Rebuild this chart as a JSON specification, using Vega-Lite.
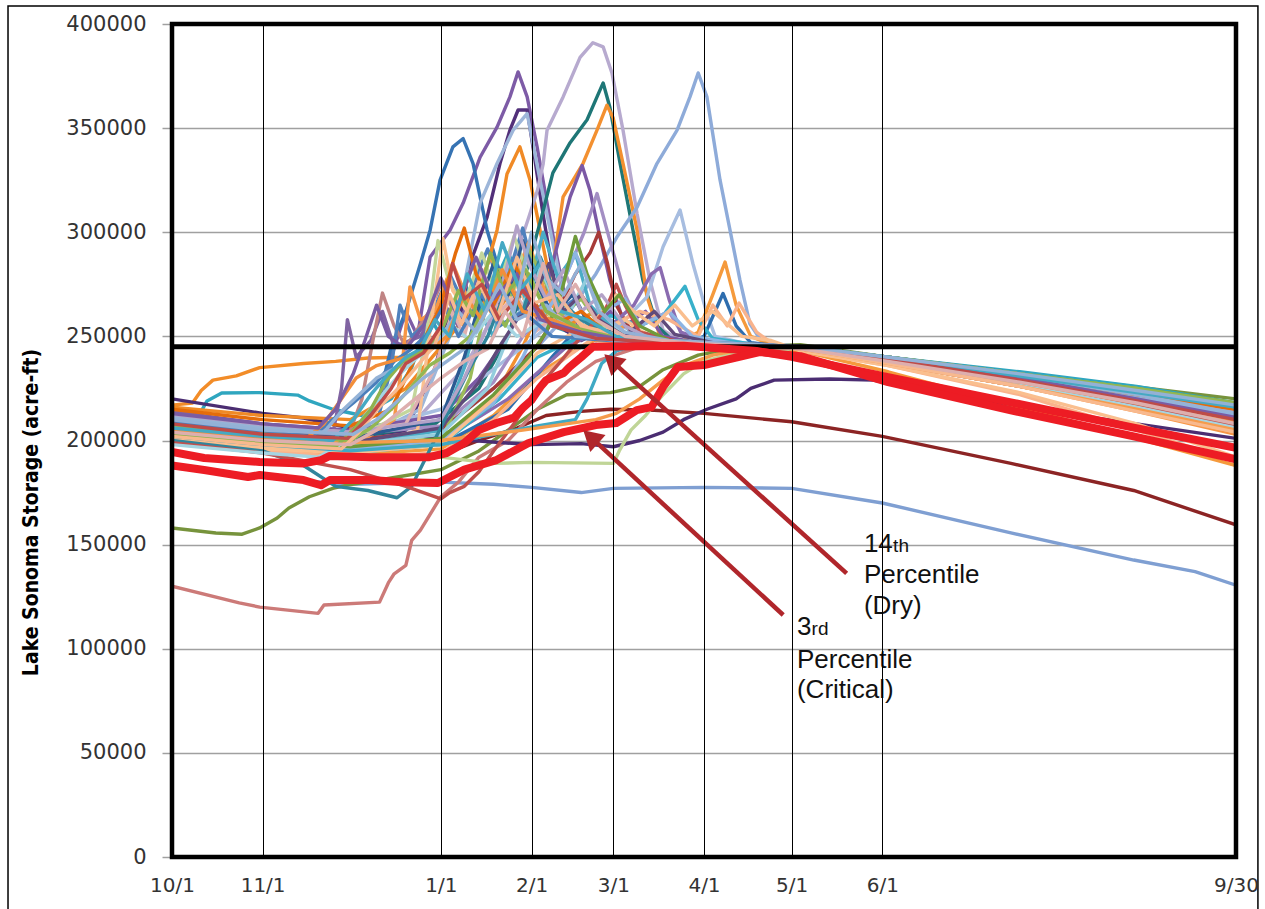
{
"$schema":"https://vega.github.io/schema/vega-lite/v6.json",
"width":1064,"height":833,
"autosize":{"type":"none"},
"padding":{"left":172,"top":24,"right":29,"bottom":52},
"background":"white",
"config":{"view":{"stroke":null}},
"datasets":{
"tr":[
{"s":"lb","d":0,"v":187000},{"s":"lb","d":20,"v":184000},{"s":"lb","d":40,"v":181000},{"s":"lb","d":61,"v":179000},{"s":"lb","d":92,"v":180000},{"s":"lb","d":110,"v":179000},{"s":"lb","d":123,"v":177500},{"s":"lb","d":140,"v":175000},{"s":"lb","d":151,"v":177000},{"s":"lb","d":182,"v":177500},{"s":"lb","d":212,"v":177000},{"s":"lb","d":243,"v":170000},{"s":"lb","d":287,"v":155600},{"s":"lb","d":329,"v":142600},{"s":"lb","d":350,"v":137000},{"s":"lb","d":364,"v":130500},
{"s":"dr","d":0,"v":205000},{"s":"dr","d":31,"v":200000},{"s":"dr","d":61,"v":196000},{"s":"dr","d":80,"v":192000},{"s":"dr","d":92,"v":193000},{"s":"dr","d":105,"v":200000},{"s":"dr","d":118,"v":206000},{"s":"dr","d":128,"v":212000},{"s":"dr","d":140,"v":214000},{"s":"dr","d":150,"v":215000},{"s":"dr","d":165,"v":214500},{"s":"dr","d":182,"v":213000},{"s":"dr","d":212,"v":209000},{"s":"dr","d":243,"v":202000},{"s":"dr","d":287,"v":189000},{"s":"dr","d":329,"v":176000},{"s":"dr","d":364,"v":159500},
{"s":"gr","d":0,"v":158000},{"s":"gr","d":15,"v":155600},{"s":"gr","d":24,"v":155000},{"s":"gr","d":30,"v":158000},{"s":"gr","d":36,"v":162800},{"s":"gr","d":40,"v":167600},{"s":"gr","d":47,"v":173000},{"s":"gr","d":55,"v":177000},{"s":"gr","d":60,"v":178600},{"s":"gr","d":75,"v":182000},{"s":"gr","d":92,"v":186000},{"s":"gr","d":105,"v":195000},{"s":"gr","d":115,"v":205000},{"s":"gr","d":125,"v":215000},{"s":"gr","d":135,"v":222000},{"s":"gr","d":150,"v":223000},{"s":"gr","d":160,"v":226000},{"s":"gr","d":168,"v":234000},{"s":"gr","d":180,"v":241000},{"s":"gr","d":195,"v":245000},{"s":"gr","d":215,"v":246000},{"s":"gr","d":245,"v":240000},{"s":"gr","d":290,"v":232400},{"s":"gr","d":330,"v":225700},{"s":"gr","d":364,"v":220000},
{"s":"ro","d":0,"v":130000},{"s":"ro","d":23,"v":122000},{"s":"ro","d":30,"v":120000},{"s":"ro","d":50,"v":117000},{"s":"ro","d":52,"v":121000},{"s":"ro","d":71,"v":122400},{"s":"ro","d":74,"v":131600},{"s":"ro","d":76,"v":136000},{"s":"ro","d":80,"v":140000},{"s":"ro","d":82,"v":152000},{"s":"ro","d":85,"v":157000},{"s":"ro","d":92,"v":173000},{"s":"ro","d":98,"v":180000},{"s":"ro","d":105,"v":192000},{"s":"ro","d":115,"v":200000},{"s":"ro","d":125,"v":215000},{"s":"ro","d":135,"v":228000},{"s":"ro","d":145,"v":238000},{"s":"ro","d":160,"v":245000},{"s":"ro","d":190,"v":247000},{"s":"ro","d":215,"v":244000},{"s":"ro","d":245,"v":237000},{"s":"ro","d":290,"v":226000},{"s":"ro","d":330,"v":216000},{"s":"ro","d":364,"v":207000},
{"s":"o1","d":0,"v":217000},{"s":"o1","d":7,"v":218000},{"s":"o1","d":10,"v":224000},{"s":"o1","d":14,"v":229000},{"s":"o1","d":22,"v":231000},{"s":"o1","d":30,"v":235000},{"s":"o1","d":45,"v":237000},{"s":"o1","d":56,"v":238000},{"s":"o1","d":67,"v":239600},{"s":"o1","d":78,"v":240000},{"s":"o1","d":85,"v":242000},{"s":"o1","d":90,"v":250000},{"s":"o1","d":95,"v":262000},{"s":"o1","d":100,"v":255000},{"s":"o1","d":105,"v":270000},{"s":"o1","d":110,"v":260000},{"s":"o1","d":118,"v":275000},{"s":"o1","d":125,"v":262000},{"s":"o1","d":135,"v":258000},{"s":"o1","d":145,"v":250000},{"s":"o1","d":160,"v":247000},{"s":"o1","d":190,"v":246000},{"s":"o1","d":215,"v":243000},{"s":"o1","d":245,"v":237000},{"s":"o1","d":290,"v":228000},{"s":"o1","d":330,"v":219000},{"s":"o1","d":364,"v":210000},
{"s":"aq","d":0,"v":212000},{"s":"aq","d":10,"v":214000},{"s":"aq","d":12,"v":219000},{"s":"aq","d":17,"v":222800},{"s":"aq","d":30,"v":223000},{"s":"aq","d":43,"v":221800},{"s":"aq","d":47,"v":219000},{"s":"aq","d":55,"v":215000},{"s":"aq","d":65,"v":212000},{"s":"aq","d":75,"v":220000},{"s":"aq","d":82,"v":235000},{"s":"aq","d":88,"v":260000},{"s":"aq","d":92,"v":250000},{"s":"aq","d":100,"v":275000},{"s":"aq","d":106,"v":262000},{"s":"aq","d":115,"v":290000},{"s":"aq","d":122,"v":270000},{"s":"aq","d":130,"v":255000},{"s":"aq","d":140,"v":250000},{"s":"aq","d":150,"v":262000},{"s":"aq","d":160,"v":248000},{"s":"aq","d":190,"v":246000},{"s":"aq","d":215,"v":245000},{"s":"aq","d":245,"v":240000},{"s":"aq","d":290,"v":233000},{"s":"aq","d":330,"v":226000},{"s":"aq","d":364,"v":218000},
{"s":"dp","d":0,"v":220000},{"s":"dp","d":31,"v":213000},{"s":"dp","d":45,"v":210800},{"s":"dp","d":61,"v":206000},{"s":"dp","d":92,"v":201000},{"s":"dp","d":123,"v":198000},{"s":"dp","d":140,"v":198500},{"s":"dp","d":151,"v":197000},{"s":"dp","d":160,"v":200000},{"s":"dp","d":168,"v":204000},{"s":"dp","d":175,"v":210000},{"s":"dp","d":183,"v":215000},{"s":"dp","d":193,"v":220000},{"s":"dp","d":198,"v":225000},{"s":"dp","d":206,"v":229000},{"s":"dp","d":225,"v":229500},{"s":"dp","d":240,"v":229000},{"s":"dp","d":260,"v":223000},{"s":"dp","d":290,"v":216000},{"s":"dp","d":330,"v":208000},{"s":"dp","d":364,"v":201000},
{"s":"lg","d":0,"v":203000},{"s":"lg","d":31,"v":198000},{"s":"lg","d":61,"v":195000},{"s":"lg","d":92,"v":192000},{"s":"lg","d":110,"v":189000},{"s":"lg","d":123,"v":189500},{"s":"lg","d":151,"v":189000},{"s":"lg","d":153,"v":195000},{"s":"lg","d":157,"v":205000},{"s":"lg","d":162,"v":212000},{"s":"lg","d":168,"v":222000},{"s":"lg","d":175,"v":232000},{"s":"lg","d":182,"v":238000},{"s":"lg","d":195,"v":243000},{"s":"lg","d":215,"v":244000},{"s":"lg","d":245,"v":238000},{"s":"lg","d":290,"v":228000},{"s":"lg","d":330,"v":218000},{"s":"lg","d":364,"v":209000},
{"s":"pa","d":0,"v":214000},{"s":"pa","d":31,"v":208000},{"s":"pa","d":61,"v":204000},{"s":"pa","d":70,"v":215000},{"s":"pa","d":75,"v":240000},{"s":"pa","d":80,"v":262000},{"s":"pa","d":84,"v":250000},{"s":"pa","d":88.3,"v":288100},{"s":"pa","d":95.1,"v":301000},{"s":"pa","d":99.6,"v":314000},{"s":"pa","d":105.4,"v":336000},{"s":"pa","d":111.2,"v":350500},{"s":"pa","d":115.6,"v":365000},{"s":"pa","d":118.4,"v":377000},{"s":"pa","d":121.5,"v":365000},{"s":"pa","d":124.9,"v":341000},{"s":"pa","d":128.3,"v":314000},{"s":"pa","d":131.7,"v":288000},{"s":"pa","d":135,"v":265000},{"s":"pa","d":140,"v":250000},{"s":"pa","d":150,"v":262000},{"s":"pa","d":160,"v":250000},{"s":"pa","d":175,"v":247000},{"s":"pa","d":200,"v":246000},{"s":"pa","d":215,"v":245000},{"s":"pa","d":245,"v":239000},{"s":"pa","d":290,"v":230000},{"s":"pa","d":330,"v":221000},{"s":"pa","d":364,"v":212000},
{"s":"pb","d":0,"v":208000},{"s":"pb","d":31,"v":203000},{"s":"pb","d":61,"v":200000},{"s":"pb","d":80,"v":205000},{"s":"pb","d":90,"v":235000},{"s":"pb","d":95,"v":262000},{"s":"pb","d":98,"v":255000},{"s":"pb","d":102,"v":285200},{"s":"pb","d":107.8,"v":307300},{"s":"pb","d":112.2,"v":333000},{"s":"pb","d":115.6,"v":349000},{"s":"pb","d":118.4,"v":358700},{"s":"pb","d":121.5,"v":358700},{"s":"pb","d":123.5,"v":341000},{"s":"pb","d":126.9,"v":309000},{"s":"pb","d":131.7,"v":269000},{"s":"pb","d":134.4,"v":253000},{"s":"pb","d":140,"v":248000},{"s":"pb","d":150,"v":255000},{"s":"pb","d":160,"v":247000},{"s":"pb","d":180,"v":246000},{"s":"pb","d":215,"v":244000},{"s":"pb","d":245,"v":238000},{"s":"pb","d":290,"v":228000},{"s":"pb","d":330,"v":218000},{"s":"pb","d":364,"v":208000},
{"s":"pc","d":0,"v":210000},{"s":"pc","d":31,"v":205000},{"s":"pc","d":61,"v":202000},{"s":"pc","d":70,"v":215000},{"s":"pc","d":75,"v":245000},{"s":"pc","d":80,"v":262000},{"s":"pc","d":85,"v":285000},{"s":"pc","d":88.3,"v":301000},{"s":"pc","d":91.7,"v":325000},{"s":"pc","d":96.1,"v":341000},{"s":"pc","d":99.6,"v":345000},{"s":"pc","d":103,"v":333000},{"s":"pc","d":105.4,"v":317000},{"s":"pc","d":107.8,"v":301000},{"s":"pc","d":111.2,"v":285000},{"s":"pc","d":115,"v":270000},{"s":"pc","d":120,"v":260000},{"s":"pc","d":125,"v":285000},{"s":"pc","d":130,"v":270000},{"s":"pc","d":135,"v":255000},{"s":"pc","d":145,"v":250000},{"s":"pc","d":160,"v":248000},{"s":"pc","d":190,"v":246000},{"s":"pc","d":215,"v":245000},{"s":"pc","d":245,"v":239000},{"s":"pc","d":290,"v":230000},{"s":"pc","d":330,"v":221000},{"s":"pc","d":364,"v":213000},
{"s":"pd","d":0,"v":206000},{"s":"pd","d":31,"v":201000},{"s":"pd","d":61,"v":198000},{"s":"pd","d":85,"v":215000},{"s":"pd","d":95,"v":250000},{"s":"pd","d":100,"v":275000},{"s":"pd","d":105.4,"v":314000},{"s":"pd","d":111.2,"v":333000},{"s":"pd","d":116.7,"v":349000},{"s":"pd","d":121.5,"v":357000},{"s":"pd","d":125.9,"v":325000},{"s":"pd","d":131.7,"v":285000},{"s":"pd","d":135,"v":262000},{"s":"pd","d":140,"v":250000},{"s":"pd","d":150,"v":258000},{"s":"pd","d":165,"v":247000},{"s":"pd","d":190,"v":246000},{"s":"pd","d":215,"v":245000},{"s":"pd","d":245,"v":239000},{"s":"pd","d":290,"v":229000},{"s":"pd","d":330,"v":219000},{"s":"pd","d":364,"v":210000},
{"s":"pe","d":0,"v":216000},{"s":"pe","d":31,"v":212000},{"s":"pe","d":61,"v":210000},{"s":"pe","d":80,"v":225000},{"s":"pe","d":95,"v":250000},{"s":"pe","d":102,"v":262000},{"s":"pe","d":107,"v":280000},{"s":"pe","d":111.2,"v":301000},{"s":"pe","d":114.6,"v":328000},{"s":"pe","d":119,"v":341000},{"s":"pe","d":122.5,"v":325000},{"s":"pe","d":125.9,"v":301000},{"s":"pe","d":129.3,"v":277000},{"s":"pe","d":135,"v":255000},{"s":"pe","d":145,"v":262000},{"s":"pe","d":155,"v":250000},{"s":"pe","d":175,"v":247000},{"s":"pe","d":200,"v":246000},{"s":"pe","d":215,"v":244000},{"s":"pe","d":245,"v":238000},{"s":"pe","d":290,"v":229000},{"s":"pe","d":330,"v":219000},{"s":"pe","d":364,"v":209000},
{"s":"pf","d":0,"v":212000},{"s":"pf","d":31,"v":207000},{"s":"pf","d":61,"v":204000},{"s":"pf","d":85,"v":212000},{"s":"pf","d":100,"v":235000},{"s":"pf","d":110,"v":260000},{"s":"pf","d":118,"v":290000},{"s":"pf","d":122,"v":307000},{"s":"pf","d":125,"v":320000},{"s":"pf","d":127,"v":333000},{"s":"pf","d":128.3,"v":349000},{"s":"pf","d":133.8,"v":365000},{"s":"pf","d":139.6,"v":384000},{"s":"pf","d":144,"v":391000},{"s":"pf","d":147.5,"v":389000},{"s":"pf","d":150.5,"v":376500},{"s":"pf","d":154.3,"v":349000},{"s":"pf","d":159.1,"v":309000},{"s":"pf","d":163.5,"v":277000},{"s":"pf","d":168,"v":253000},{"s":"pf","d":175,"v":247000},{"s":"pf","d":195,"v":246000},{"s":"pf","d":215,"v":245000},{"s":"pf","d":245,"v":240000},{"s":"pf","d":290,"v":231000},{"s":"pf","d":330,"v":222000},{"s":"pf","d":364,"v":214000},
{"s":"pg","d":0,"v":209000},{"s":"pg","d":31,"v":204000},{"s":"pg","d":61,"v":201000},{"s":"pg","d":90,"v":208000},{"s":"pg","d":105,"v":225000},{"s":"pg","d":115,"v":250000},{"s":"pg","d":120,"v":275000},{"s":"pg","d":125.9,"v":304500},{"s":"pg","d":130.3,"v":328500},{"s":"pg","d":136.2,"v":343000},{"s":"pg","d":142,"v":354000},{"s":"pg","d":145.4,"v":365000},{"s":"pg","d":147.5,"v":371700},{"s":"pg","d":149.8,"v":360000},{"s":"pg","d":153.3,"v":333000},{"s":"pg","d":157.7,"v":301000},{"s":"pg","d":161.1,"v":277000},{"s":"pg","d":166,"v":255000},{"s":"pg","d":172,"v":247000},{"s":"pg","d":195,"v":246000},{"s":"pg","d":215,"v":245000},{"s":"pg","d":245,"v":240000},{"s":"pg","d":290,"v":231000},{"s":"pg","d":330,"v":222000},{"s":"pg","d":364,"v":215000},
{"s":"ph","d":0,"v":204000},{"s":"ph","d":31,"v":199000},{"s":"ph","d":61,"v":196000},{"s":"ph","d":92,"v":200000},{"s":"ph","d":110,"v":220000},{"s":"ph","d":120,"v":245000},{"s":"ph","d":128,"v":270000},{"s":"ph","d":131,"v":290000},{"s":"ph","d":133.8,"v":317000},{"s":"ph","d":140.6,"v":333000},{"s":"ph","d":145.4,"v":349000},{"s":"ph","d":148.8,"v":361000},{"s":"ph","d":150.9,"v":355000},{"s":"ph","d":154.3,"v":333000},{"s":"ph","d":159.1,"v":301000},{"s":"ph","d":162.5,"v":269000},{"s":"ph","d":167,"v":250000},{"s":"ph","d":175,"v":247000},{"s":"ph","d":195,"v":246000},{"s":"ph","d":215,"v":244000},{"s":"ph","d":245,"v":238000},{"s":"ph","d":290,"v":227000},{"s":"ph","d":330,"v":216000},{"s":"ph","d":364,"v":206000},
{"s":"pi","d":0,"v":207000},{"s":"pi","d":31,"v":203000},{"s":"pi","d":61,"v":200000},{"s":"pi","d":92,"v":205000},{"s":"pi","d":110,"v":225000},{"s":"pi","d":125,"v":245000},{"s":"pi","d":135,"v":260000},{"s":"pi","d":145,"v":280000},{"s":"pi","d":152.2,"v":297700},{"s":"pi","d":159.1,"v":312000},{"s":"pi","d":165.9,"v":333000},{"s":"pi","d":172.8,"v":349000},{"s":"pi","d":177.2,"v":365000},{"s":"pi","d":180,"v":376500},{"s":"pi","d":183,"v":365000},{"s":"pi","d":187.5,"v":325000},{"s":"pi","d":190.9,"v":301000},{"s":"pi","d":194.3,"v":277000},{"s":"pi","d":197.7,"v":256000},{"s":"pi","d":202,"v":247000},{"s":"pi","d":215,"v":245000},{"s":"pi","d":245,"v":240000},{"s":"pi","d":290,"v":231000},{"s":"pi","d":330,"v":222000},{"s":"pi","d":364,"v":213000},
{"s":"pj","d":0,"v":210000},{"s":"pj","d":31,"v":206000},{"s":"pj","d":61,"v":203000},{"s":"pj","d":92,"v":215000},{"s":"pj","d":120,"v":245000},{"s":"pj","d":135,"v":262000},{"s":"pj","d":145,"v":250000},{"s":"pj","d":155,"v":258000},{"s":"pj","d":162.5,"v":269000},{"s":"pj","d":168,"v":293000},{"s":"pj","d":173.8,"v":310700},{"s":"pj","d":178.2,"v":285000},{"s":"pj","d":183,"v":261000},{"s":"pj","d":185.8,"v":250000},{"s":"pj","d":195,"v":247000},{"s":"pj","d":215,"v":245000},{"s":"pj","d":245,"v":240000},{"s":"pj","d":290,"v":231000},{"s":"pj","d":330,"v":223000},{"s":"pj","d":364,"v":215000},
{"s":"pk","d":0,"v":200000},{"s":"pk","d":31,"v":196000},{"s":"pk","d":61,"v":193000},{"s":"pk","d":92,"v":196000},{"s":"pk","d":110,"v":212000},{"s":"pk","d":125,"v":232000},{"s":"pk","d":140,"v":245000},{"s":"pk","d":155,"v":255000},{"s":"pk","d":165,"v":250000},{"s":"pk","d":175,"v":248000},{"s":"pk","d":180,"v":252000},{"s":"pk","d":185,"v":270000},{"s":"pk","d":189.2,"v":285700},{"s":"pk","d":193,"v":265000},{"s":"pk","d":198,"v":250000},{"s":"pk","d":205,"v":246000},{"s":"pk","d":215,"v":243000},{"s":"pk","d":245,"v":233000},{"s":"pk","d":290,"v":216000},{"s":"pk","d":330,"v":201000},{"s":"pk","d":364,"v":188000},
{"s":"pl","d":0,"v":203000},{"s":"pl","d":31,"v":199000},{"s":"pl","d":61,"v":196000},{"s":"pl","d":92,"v":198000},{"s":"pl","d":115,"v":215000},{"s":"pl","d":130,"v":240000},{"s":"pl","d":140,"v":256000},{"s":"pl","d":145,"v":248000},{"s":"pl","d":160,"v":252000},{"s":"pl","d":175,"v":246000},{"s":"pl","d":182,"v":250000},{"s":"pl","d":188.5,"v":270600},{"s":"pl","d":193,"v":255000},{"s":"pl","d":198,"v":247000},{"s":"pl","d":215,"v":244000},{"s":"pl","d":245,"v":237000},{"s":"pl","d":290,"v":226000},{"s":"pl","d":330,"v":215000},{"s":"pl","d":364,"v":205000},
{"s":"pm","d":0,"v":213000},{"s":"pm","d":31,"v":208000},{"s":"pm","d":61,"v":205000},{"s":"pm","d":92,"v":212000},{"s":"pm","d":105,"v":230000},{"s":"pm","d":115,"v":250000},{"s":"pm","d":120,"v":265000},{"s":"pm","d":125,"v":258000},{"s":"pm","d":131.7,"v":293000},{"s":"pm","d":136.2,"v":317000},{"s":"pm","d":140.3,"v":332000},{"s":"pm","d":143,"v":320000},{"s":"pm","d":146.4,"v":297700},{"s":"pm","d":149.8,"v":277000},{"s":"pm","d":155,"v":255000},{"s":"pm","d":162,"v":262000},{"s":"pm","d":168,"v":250000},{"s":"pm","d":180,"v":247000},{"s":"pm","d":200,"v":246000},{"s":"pm","d":215,"v":245000},{"s":"pm","d":245,"v":239000},{"s":"pm","d":290,"v":229000},{"s":"pm","d":330,"v":219000},{"s":"pm","d":364,"v":210000},
{"s":"pn","d":0,"v":211000},{"s":"pn","d":31,"v":206000},{"s":"pn","d":61,"v":203000},{"s":"pn","d":92,"v":207000},{"s":"pn","d":110,"v":228000},{"s":"pn","d":120,"v":250000},{"s":"pn","d":128,"v":262000},{"s":"pn","d":135,"v":280000},{"s":"pn","d":141,"v":300000},{"s":"pn","d":145.4,"v":318600},{"s":"pn","d":150,"v":295000},{"s":"pn","d":155,"v":270000},{"s":"pn","d":160,"v":255000},{"s":"pn","d":170,"v":262000},{"s":"pn","d":175,"v":250000},{"s":"pn","d":190,"v":247000},{"s":"pn","d":215,"v":245000},{"s":"pn","d":245,"v":239000},{"s":"pn","d":290,"v":230000},{"s":"pn","d":330,"v":221000},{"s":"pn","d":364,"v":212000},
{"s":"po","d":0,"v":207000},{"s":"po","d":31,"v":203000},{"s":"po","d":61,"v":200000},{"s":"po","d":92,"v":205000},{"s":"po","d":110,"v":225000},{"s":"po","d":125,"v":245000},{"s":"po","d":132,"v":262000},{"s":"po","d":138,"v":280000},{"s":"po","d":143,"v":290000},{"s":"po","d":146,"v":300000},{"s":"po","d":149,"v":285000},{"s":"po","d":152,"v":265000},{"s":"po","d":158,"v":250000},{"s":"po","d":175,"v":247000},{"s":"po","d":200,"v":246000},{"s":"po","d":215,"v":244000},{"s":"po","d":245,"v":238000},{"s":"po","d":290,"v":228000},{"s":"po","d":330,"v":218000},{"s":"po","d":364,"v":208000},
{"s":"pp","d":0,"v":205000},{"s":"pp","d":31,"v":200000},{"s":"pp","d":61,"v":197000},{"s":"pp","d":92,"v":200000},{"s":"pp","d":115,"v":220000},{"s":"pp","d":135,"v":245000},{"s":"pp","d":150,"v":255000},{"s":"pp","d":158,"v":265000},{"s":"pp","d":164,"v":280000},{"s":"pp","d":167,"v":283000},{"s":"pp","d":170,"v":268000},{"s":"pp","d":174,"v":252000},{"s":"pp","d":185,"v":247000},{"s":"pp","d":215,"v":245000},{"s":"pp","d":245,"v":238000},{"s":"pp","d":290,"v":228000},{"s":"pp","d":330,"v":217000},{"s":"pp","d":364,"v":207000},
{"s":"pq","d":0,"v":201000},{"s":"pq","d":31,"v":197000},{"s":"pq","d":61,"v":194000},{"s":"pq","d":92,"v":198000},{"s":"pq","d":112,"v":220000},{"s":"pq","d":125,"v":240000},{"s":"pq","d":140,"v":250000},{"s":"pq","d":150,"v":260000},{"s":"pq","d":160,"v":255000},{"s":"pq","d":168,"v":260000},{"s":"pq","d":175.5,"v":274000},{"s":"pq","d":180,"v":258000},{"s":"pq","d":185,"v":249000},{"s":"pq","d":200,"v":246000},{"s":"pq","d":215,"v":245000},{"s":"pq","d":245,"v":239000},{"s":"pq","d":290,"v":230000},{"s":"pq","d":330,"v":220000},{"s":"pq","d":364,"v":211000},
{"s":"pr","d":0,"v":199000},{"s":"pr","d":31,"v":195000},{"s":"pr","d":61,"v":192000},{"s":"pr","d":92,"v":194000},{"s":"pr","d":110,"v":210000},{"s":"pr","d":125,"v":230000},{"s":"pr","d":140,"v":245000},{"s":"pr","d":150,"v":255000},{"s":"pr","d":160,"v":262000},{"s":"pr","d":170,"v":258000},{"s":"pr","d":180,"v":250000},{"s":"pr","d":185,"v":265000},{"s":"pr","d":190,"v":255000},{"s":"pr","d":194,"v":266000},{"s":"pr","d":200,"v":252000},{"s":"pr","d":205,"v":247000},{"s":"pr","d":220,"v":242000},{"s":"pr","d":245,"v":236000},{"s":"pr","d":290,"v":222000},{"s":"pr","d":330,"v":205000},{"s":"pr","d":364,"v":190000},
{"s":"m1","d":0,"v":214000},{"s":"m1","d":31,"v":207000},{"s":"m1","d":55,"v":203000},{"s":"m1","d":58,"v":225000},{"s":"m1","d":60,"v":258000},{"s":"m1","d":63,"v":240000},{"s":"m1","d":68,"v":248000},{"s":"m1","d":72,"v":262000},{"s":"m1","d":76,"v":245000},{"s":"m1","d":85,"v":250000},{"s":"m1","d":92,"v":268000},{"s":"m1","d":98,"v":255000},{"s":"m1","d":105,"v":280000},{"s":"m1","d":110,"v":262000},{"s":"m1","d":118,"v":275000},{"s":"m1","d":125,"v":255000},{"s":"m1","d":135,"v":262000},{"s":"m1","d":145,"v":250000},{"s":"m1","d":160,"v":247000},{"s":"m1","d":190,"v":246000},{"s":"m1","d":215,"v":245000},{"s":"m1","d":245,"v":240000},{"s":"m1","d":290,"v":231000},{"s":"m1","d":330,"v":222000},{"s":"m1","d":364,"v":214000},
{"s":"m2","d":0,"v":210000},{"s":"m2","d":31,"v":205000},{"s":"m2","d":60,"v":201000},{"s":"m2","d":65,"v":220000},{"s":"m2","d":69,"v":250000},{"s":"m2","d":72,"v":270800},{"s":"m2","d":76,"v":255000},{"s":"m2","d":80,"v":245000},{"s":"m2","d":88,"v":262000},{"s":"m2","d":92,"v":275000},{"s":"m2","d":97,"v":260000},{"s":"m2","d":103,"v":285000},{"s":"m2","d":108,"v":265000},{"s":"m2","d":115,"v":278000},{"s":"m2","d":122,"v":258000},{"s":"m2","d":130,"v":265000},{"s":"m2","d":140,"v":250000},{"s":"m2","d":160,"v":247000},{"s":"m2","d":190,"v":246000},{"s":"m2","d":215,"v":245000},{"s":"m2","d":245,"v":239000},{"s":"m2","d":290,"v":229000},{"s":"m2","d":330,"v":219000},{"s":"m2","d":364,"v":209000},
{"s":"m3","d":0,"v":206000},{"s":"m3","d":31,"v":201000},{"s":"m3","d":61,"v":198000},{"s":"m3","d":70,"v":208000},{"s":"m3","d":75,"v":235000},{"s":"m3","d":78,"v":265000},{"s":"m3","d":82,"v":250000},{"s":"m3","d":88,"v":258000},{"s":"m3","d":95,"v":280000},{"s":"m3","d":100,"v":265000},{"s":"m3","d":108,"v":292000},{"s":"m3","d":113,"v":270000},{"s":"m3","d":120,"v":302000},{"s":"m3","d":124,"v":280000},{"s":"m3","d":130,"v":260000},{"s":"m3","d":138,"v":268000},{"s":"m3","d":145,"v":250000},{"s":"m3","d":160,"v":247000},{"s":"m3","d":190,"v":246000},{"s":"m3","d":215,"v":245000},{"s":"m3","d":245,"v":239000},{"s":"m3","d":290,"v":230000},{"s":"m3","d":330,"v":221000},{"s":"m3","d":364,"v":212000},
{"s":"m4","d":0,"v":203000},{"s":"m4","d":31,"v":199000},{"s":"m4","d":61,"v":196000},{"s":"m4","d":76,"v":210000},{"s":"m4","d":79,"v":240000},{"s":"m4","d":81.4,"v":273700},{"s":"m4","d":85,"v":258000},{"s":"m4","d":90,"v":262000},{"s":"m4","d":96,"v":285000},{"s":"m4","d":102,"v":265000},{"s":"m4","d":109,"v":288000},{"s":"m4","d":115,"v":270000},{"s":"m4","d":122,"v":295000},{"s":"m4","d":128,"v":270000},{"s":"m4","d":135,"v":255000},{"s":"m4","d":145,"v":248000},{"s":"m4","d":160,"v":247000},{"s":"m4","d":190,"v":246000},{"s":"m4","d":215,"v":244000},{"s":"m4","d":245,"v":237000},{"s":"m4","d":290,"v":226000},{"s":"m4","d":330,"v":214000},{"s":"m4","d":364,"v":203000},
{"s":"m5","d":0,"v":208000},{"s":"m5","d":31,"v":203000},{"s":"m5","d":61,"v":200000},{"s":"m5","d":82,"v":215000},{"s":"m5","d":87,"v":250000},{"s":"m5","d":91,"v":296000},{"s":"m5","d":95,"v":275000},{"s":"m5","d":100,"v":265000},{"s":"m5","d":106,"v":290000},{"s":"m5","d":111,"v":270000},{"s":"m5","d":117,"v":298000},{"s":"m5","d":123,"v":275000},{"s":"m5","d":130,"v":258000},{"s":"m5","d":140,"v":250000},{"s":"m5","d":150,"v":256000},{"s":"m5","d":160,"v":248000},{"s":"m5","d":190,"v":246000},{"s":"m5","d":215,"v":245000},{"s":"m5","d":245,"v":240000},{"s":"m5","d":290,"v":232000},{"s":"m5","d":330,"v":225000},{"s":"m5","d":364,"v":217000},
{"s":"m6","d":0,"v":200000},{"s":"m6","d":31,"v":196000},{"s":"m6","d":61,"v":194000},{"s":"m6","d":84,"v":205000},{"s":"m6","d":88,"v":250000},{"s":"m6","d":92.7,"v":297000},{"s":"m6","d":96,"v":272000},{"s":"m6","d":101,"v":262000},{"s":"m6","d":106,"v":280000},{"s":"m6","d":112,"v":258000},{"s":"m6","d":118,"v":275000},{"s":"m6","d":125,"v":255000},{"s":"m6","d":135,"v":262000},{"s":"m6","d":145,"v":250000},{"s":"m6","d":155,"v":258000},{"s":"m6","d":165,"v":248000},{"s":"m6","d":190,"v":246000},{"s":"m6","d":215,"v":244000},{"s":"m6","d":245,"v":237000},{"s":"m6","d":290,"v":226000},{"s":"m6","d":330,"v":215000},{"s":"m6","d":364,"v":204000},
{"s":"m7","d":0,"v":204000},{"s":"m7","d":31,"v":200000},{"s":"m7","d":61,"v":197000},{"s":"m7","d":92,"v":205000},{"s":"m7","d":100,"v":235000},{"s":"m7","d":105,"v":262000},{"s":"m7","d":110,"v":250000},{"s":"m7","d":116,"v":285000},{"s":"m7","d":121,"v":268000},{"s":"m7","d":127,"v":300000},{"s":"m7","d":132,"v":278000},{"s":"m7","d":138,"v":290000},{"s":"m7","d":143,"v":265000},{"s":"m7","d":150,"v":255000},{"s":"m7","d":160,"v":248000},{"s":"m7","d":190,"v":246000},{"s":"m7","d":215,"v":245000},{"s":"m7","d":245,"v":240000},{"s":"m7","d":290,"v":231000},{"s":"m7","d":330,"v":223000},{"s":"m7","d":364,"v":216000},
{"s":"m8","d":0,"v":202000},{"s":"m8","d":31,"v":198000},{"s":"m8","d":61,"v":195000},{"s":"m8","d":92,"v":200000},{"s":"m8","d":102,"v":230000},{"s":"m8","d":107,"v":262000},{"s":"m8","d":112,"v":282000},{"s":"m8","d":116,"v":270000},{"s":"m8","d":122,"v":292000},{"s":"m8","d":128,"v":275000},{"s":"m8","d":133,"v":260000},{"s":"m8","d":140,"v":268000},{"s":"m8","d":148,"v":252000},{"s":"m8","d":160,"v":247000},{"s":"m8","d":190,"v":246000},{"s":"m8","d":215,"v":245000},{"s":"m8","d":245,"v":239000},{"s":"m8","d":290,"v":230000},{"s":"m8","d":330,"v":221000},{"s":"m8","d":364,"v":213000},
{"s":"m9","d":0,"v":209000},{"s":"m9","d":31,"v":204000},{"s":"m9","d":61,"v":201000},{"s":"m9","d":92,"v":210000},{"s":"m9","d":100,"v":240000},{"s":"m9","d":104,"v":260000},{"s":"m9","d":110,"v":285000},{"s":"m9","d":115,"v":270000},{"s":"m9","d":120,"v":296000},{"s":"m9","d":125,"v":275000},{"s":"m9","d":130,"v":260000},{"s":"m9","d":137,"v":270000},{"s":"m9","d":143,"v":255000},{"s":"m9","d":155,"v":250000},{"s":"m9","d":175,"v":247000},{"s":"m9","d":200,"v":246000},{"s":"m9","d":215,"v":245000},{"s":"m9","d":245,"v":239000},{"s":"m9","d":290,"v":229000},{"s":"m9","d":330,"v":219000},{"s":"m9","d":364,"v":210000},
{"s":"m10","d":0,"v":205000},{"s":"m10","d":31,"v":201000},{"s":"m10","d":61,"v":198000},{"s":"m10","d":92,"v":203000},{"s":"m10","d":108,"v":225000},{"s":"m10","d":115,"v":250000},{"s":"m10","d":120,"v":265000},{"s":"m10","d":126,"v":283000},{"s":"m10","d":130,"v":270000},{"s":"m10","d":136,"v":262000},{"s":"m10","d":142,"v":278000},{"s":"m10","d":148,"v":260000},{"s":"m10","d":155,"v":250000},{"s":"m10","d":170,"v":247000},{"s":"m10","d":200,"v":246000},{"s":"m10","d":215,"v":245000},{"s":"m10","d":245,"v":240000},{"s":"m10","d":290,"v":232000},{"s":"m10","d":330,"v":224000},{"s":"m10","d":364,"v":217000},
{"s":"m11","d":0,"v":211000},{"s":"m11","d":31,"v":207000},{"s":"m11","d":61,"v":204000},{"s":"m11","d":80,"v":208000},{"s":"m11","d":90,"v":235000},{"s":"m11","d":96,"v":262000},{"s":"m11","d":100,"v":250000},{"s":"m11","d":106,"v":282000},{"s":"m11","d":112,"v":262000},{"s":"m11","d":118,"v":270000},{"s":"m11","d":124,"v":252000},{"s":"m11","d":132,"v":260000},{"s":"m11","d":140,"v":250000},{"s":"m11","d":160,"v":247000},{"s":"m11","d":190,"v":246000},{"s":"m11","d":215,"v":245000},{"s":"m11","d":245,"v":240000},{"s":"m11","d":290,"v":231000},{"s":"m11","d":330,"v":222000},{"s":"m11","d":364,"v":214000},
{"s":"m12","d":0,"v":203000},{"s":"m12","d":31,"v":199000},{"s":"m12","d":61,"v":196000},{"s":"m12","d":92,"v":200000},{"s":"m12","d":110,"v":218000},{"s":"m12","d":120,"v":240000},{"s":"m12","d":126,"v":258000},{"s":"m12","d":132,"v":270000},{"s":"m12","d":138,"v":290000},{"s":"m12","d":142,"v":278000},{"s":"m12","d":148,"v":262000},{"s":"m12","d":155,"v":268000},{"s":"m12","d":160,"v":255000},{"s":"m12","d":170,"v":262000},{"s":"m12","d":178,"v":250000},{"s":"m12","d":195,"v":246000},{"s":"m12","d":215,"v":245000},{"s":"m12","d":245,"v":239000},{"s":"m12","d":290,"v":230000},{"s":"m12","d":330,"v":221000},{"s":"m12","d":364,"v":212000},
{"s":"m13","d":0,"v":207000},{"s":"m13","d":31,"v":202000},{"s":"m13","d":61,"v":199000},{"s":"m13","d":92,"v":206000},{"s":"m13","d":105,"v":228000},{"s":"m13","d":112,"v":245000},{"s":"m13","d":118,"v":258000},{"s":"m13","d":124,"v":270000},{"s":"m13","d":129,"v":285000},{"s":"m13","d":134,"v":262000},{"s":"m13","d":140,"v":270000},{"s":"m13","d":146,"v":258000},{"s":"m13","d":155,"v":250000},{"s":"m13","d":165,"v":262000},{"s":"m13","d":172,"v":251000},{"s":"m13","d":185,"v":247000},{"s":"m13","d":215,"v":245000},{"s":"m13","d":245,"v":239000},{"s":"m13","d":290,"v":229000},{"s":"m13","d":330,"v":218000},{"s":"m13","d":364,"v":208000},
{"s":"m14","d":0,"v":201000},{"s":"m14","d":31,"v":197000},{"s":"m14","d":61,"v":194000},{"s":"m14","d":92,"v":198000},{"s":"m14","d":110,"v":220000},{"s":"m14","d":125,"v":242000},{"s":"m14","d":135,"v":250000},{"s":"m14","d":145,"v":258000},{"s":"m14","d":152,"v":270000},{"s":"m14","d":158,"v":262000},{"s":"m14","d":165,"v":255000},{"s":"m14","d":172,"v":265000},{"s":"m14","d":178,"v":255000},{"s":"m14","d":185,"v":262000},{"s":"m14","d":195,"v":250000},{"s":"m14","d":205,"v":248000},{"s":"m14","d":215,"v":243000},{"s":"m14","d":245,"v":236000},{"s":"m14","d":290,"v":223000},{"s":"m14","d":330,"v":208000},{"s":"m14","d":364,"v":192000},
{"s":"m15","d":0,"v":200000},{"s":"m15","d":31,"v":195000},{"s":"m15","d":45,"v":188000},{"s":"m15","d":56,"v":178000},{"s":"m15","d":67,"v":176000},{"s":"m15","d":77,"v":172500},{"s":"m15","d":82,"v":178000},{"s":"m15","d":88,"v":195000},{"s":"m15","d":95,"v":215000},{"s":"m15","d":102,"v":235000},{"s":"m15","d":108,"v":250000},{"s":"m15","d":115,"v":275000},{"s":"m15","d":120,"v":262000},{"s":"m15","d":126,"v":288000},{"s":"m15","d":132,"v":268000},{"s":"m15","d":140,"v":258000},{"s":"m15","d":150,"v":250000},{"s":"m15","d":170,"v":247000},{"s":"m15","d":200,"v":246000},{"s":"m15","d":215,"v":245000},{"s":"m15","d":245,"v":240000},{"s":"m15","d":290,"v":231000},{"s":"m15","d":330,"v":223000},{"s":"m15","d":364,"v":216000},
{"s":"m16","d":0,"v":199000},{"s":"m16","d":31,"v":194000},{"s":"m16","d":61,"v":186000},{"s":"m16","d":80,"v":178000},{"s":"m16","d":92,"v":172000},{"s":"m16","d":95,"v":175000},{"s":"m16","d":100,"v":178000},{"s":"m16","d":105,"v":185000},{"s":"m16","d":110,"v":195000},{"s":"m16","d":118,"v":210000},{"s":"m16","d":125,"v":225000},{"s":"m16","d":133,"v":238000},{"s":"m16","d":140,"v":250000},{"s":"m16","d":148,"v":262000},{"s":"m16","d":152,"v":275000},{"s":"m16","d":155,"v":265000},{"s":"m16","d":160,"v":252000},{"s":"m16","d":175,"v":247000},{"s":"m16","d":200,"v":246000},{"s":"m16","d":215,"v":244000},{"s":"m16","d":245,"v":238000},{"s":"m16","d":290,"v":228000},{"s":"m16","d":330,"v":217000},{"s":"m16","d":364,"v":207000},
{"s":"m17","d":0,"v":212000},{"s":"m17","d":31,"v":207000},{"s":"m17","d":61,"v":204000},{"s":"m17","d":92,"v":210000},{"s":"m17","d":100,"v":230000},{"s":"m17","d":108,"v":255000},{"s":"m17","d":114,"v":280000},{"s":"m17","d":118,"v":303000},{"s":"m17","d":122,"v":285000},{"s":"m17","d":128,"v":268000},{"s":"m17","d":134,"v":282000},{"s":"m17","d":140,"v":262000},{"s":"m17","d":147,"v":270000},{"s":"m17","d":155,"v":255000},{"s":"m17","d":165,"v":248000},{"s":"m17","d":190,"v":246000},{"s":"m17","d":215,"v":245000},{"s":"m17","d":245,"v":240000},{"s":"m17","d":290,"v":231000},{"s":"m17","d":330,"v":222000},{"s":"m17","d":364,"v":214000},
{"s":"m18","d":0,"v":204000},{"s":"m18","d":31,"v":200000},{"s":"m18","d":61,"v":197000},{"s":"m18","d":92,"v":201000},{"s":"m18","d":110,"v":222000},{"s":"m18","d":122,"v":240000},{"s":"m18","d":128,"v":252000},{"s":"m18","d":133,"v":270000},{"s":"m18","d":138,"v":298000},{"s":"m18","d":142,"v":280000},{"s":"m18","d":148,"v":262000},{"s":"m18","d":153,"v":270000},{"s":"m18","d":160,"v":255000},{"s":"m18","d":170,"v":248000},{"s":"m18","d":195,"v":246000},{"s":"m18","d":215,"v":245000},{"s":"m18","d":245,"v":240000},{"s":"m18","d":290,"v":232000},{"s":"m18","d":330,"v":225000},{"s":"m18","d":364,"v":218000},
{"s":"m19","d":0,"v":215000},{"s":"m19","d":31,"v":210000},{"s":"m19","d":61,"v":207000},{"s":"m19","d":75,"v":215000},{"s":"m19","d":85,"v":245000},{"s":"m19","d":92,"v":265000},{"s":"m19","d":97,"v":290000},{"s":"m19","d":100,"v":302000},{"s":"m19","d":104,"v":280000},{"s":"m19","d":110,"v":265000},{"s":"m19","d":117,"v":285000},{"s":"m19","d":123,"v":268000},{"s":"m19","d":130,"v":255000},{"s":"m19","d":140,"v":262000},{"s":"m19","d":150,"v":250000},{"s":"m19","d":165,"v":247000},{"s":"m19","d":190,"v":246000},{"s":"m19","d":215,"v":245000},{"s":"m19","d":245,"v":240000},{"s":"m19","d":290,"v":231000},{"s":"m19","d":330,"v":222000},{"s":"m19","d":364,"v":215000},
{"s":"m20","d":0,"v":198000},{"s":"m20","d":31,"v":194000},{"s":"m20","d":50,"v":192000},{"s":"m20","d":60,"v":200000},{"s":"m20","d":66,"v":212000},{"s":"m20","d":72,"v":222000},{"s":"m20","d":78,"v":232000},{"s":"m20","d":84,"v":240000},{"s":"m20","d":90,"v":245000},{"s":"m20","d":96,"v":255000},{"s":"m20","d":102,"v":248000},{"s":"m20","d":110,"v":262000},{"s":"m20","d":118,"v":250000},{"s":"m20","d":128,"v":258000},{"s":"m20","d":140,"v":250000},{"s":"m20","d":160,"v":247000},{"s":"m20","d":200,"v":246000},{"s":"m20","d":215,"v":244000},{"s":"m20","d":245,"v":238000},{"s":"m20","d":290,"v":227000},{"s":"m20","d":330,"v":216000},{"s":"m20","d":364,"v":206000},
{"s":"m21","d":0,"v":202000},{"s":"m21","d":31,"v":198000},{"s":"m21","d":61,"v":195000},{"s":"m21","d":92,"v":198000},{"s":"m21","d":110,"v":203000},{"s":"m21","d":125,"v":207000},{"s":"m21","d":138,"v":210000},{"s":"m21","d":142,"v":220000},{"s":"m21","d":147,"v":237000},{"s":"m21","d":152,"v":243000},{"s":"m21","d":160,"v":246000},{"s":"m21","d":185,"v":247000},{"s":"m21","d":215,"v":245000},{"s":"m21","d":245,"v":240000},{"s":"m21","d":290,"v":232000},{"s":"m21","d":330,"v":224000},{"s":"m21","d":364,"v":217000},
{"s":"m22","d":0,"v":206000},{"s":"m22","d":31,"v":202000},{"s":"m22","d":61,"v":199000},{"s":"m22","d":92,"v":200000},{"s":"m22","d":120,"v":205000},{"s":"m22","d":145,"v":210000},{"s":"m22","d":152,"v":213000},{"s":"m22","d":160,"v":220000},{"s":"m22","d":168,"v":229000},{"s":"m22","d":175,"v":236000},{"s":"m22","d":185,"v":241000},{"s":"m22","d":200,"v":245000},{"s":"m22","d":215,"v":244000},{"s":"m22","d":245,"v":237000},{"s":"m22","d":290,"v":226000},{"s":"m22","d":330,"v":215000},{"s":"m22","d":364,"v":205000},
{"s":"m23","d":0,"v":209000},{"s":"m23","d":31,"v":204000},{"s":"m23","d":48,"v":202000},{"s":"m23","d":55,"v":210000},{"s":"m23","d":62,"v":218000},{"s":"m23","d":70,"v":228000},{"s":"m23","d":76,"v":238000},{"s":"m23","d":82,"v":244000},{"s":"m23","d":88,"v":252000},{"s":"m23","d":93,"v":265000},{"s":"m23","d":98,"v":250000},{"s":"m23","d":106,"v":270000},{"s":"m23","d":112,"v":255000},{"s":"m23","d":120,"v":262000},{"s":"m23","d":130,"v":250000},{"s":"m23","d":150,"v":248000},{"s":"m23","d":185,"v":245000},{"s":"m23","d":215,"v":245000},{"s":"m23","d":245,"v":240000},{"s":"m23","d":290,"v":232000},{"s":"m23","d":330,"v":224000},{"s":"m23","d":364,"v":216000},
{"s":"m24","d":0,"v":207000},{"s":"m24","d":31,"v":203000},{"s":"m24","d":61,"v":200000},{"s":"m24","d":68,"v":206000},{"s":"m24","d":75,"v":215000},{"s":"m24","d":82,"v":226000},{"s":"m24","d":88,"v":236000},{"s":"m24","d":95,"v":242000},{"s":"m24","d":102,"v":250000},{"s":"m24","d":108,"v":268000},{"s":"m24","d":114,"v":255000},{"s":"m24","d":122,"v":280000},{"s":"m24","d":128,"v":262000},{"s":"m24","d":136,"v":255000},{"s":"m24","d":150,"v":250000},{"s":"m24","d":170,"v":247000},{"s":"m24","d":192,"v":245000},{"s":"m24","d":215,"v":245000},{"s":"m24","d":245,"v":240000},{"s":"m24","d":290,"v":232000},{"s":"m24","d":330,"v":225000},{"s":"m24","d":364,"v":218000},
{"s":"m25","d":0,"v":211000},{"s":"m25","d":31,"v":206000},{"s":"m25","d":52,"v":204000},{"s":"m25","d":58,"v":214000},{"s":"m25","d":64,"v":222000},{"s":"m25","d":70,"v":230000},{"s":"m25","d":78,"v":236000},{"s":"m25","d":86,"v":242000},{"s":"m25","d":92,"v":250000},{"s":"m25","d":98,"v":262000},{"s":"m25","d":104,"v":252000},{"s":"m25","d":112,"v":275000},{"s":"m25","d":118,"v":258000},{"s":"m25","d":128,"v":265000},{"s":"m25","d":138,"v":250000},{"s":"m25","d":160,"v":247000},{"s":"m25","d":200,"v":246000},{"s":"m25","d":215,"v":245000},{"s":"m25","d":245,"v":240000},{"s":"m25","d":290,"v":231000},{"s":"m25","d":330,"v":222000},{"s":"m25","d":364,"v":213000},
{"s":"n1","d":0,"v":205000},{"s":"n1","d":31,"v":201000},{"s":"n1","d":45,"v":200000},{"s":"n1","d":52,"v":208000},{"s":"n1","d":58,"v":220000},{"s":"n1","d":63,"v":230000},{"s":"n1","d":70,"v":236000},{"s":"n1","d":80,"v":240000},{"s":"n1","d":88,"v":243000},{"s":"n1","d":94,"v":250000},{"s":"n1","d":100,"v":270000},{"s":"n1","d":106,"v":258000},{"s":"n1","d":113,"v":282000},{"s":"n1","d":120,"v":262000},{"s":"n1","d":130,"v":258000},{"s":"n1","d":145,"v":250000},{"s":"n1","d":170,"v":247000},{"s":"n1","d":200,"v":246000},{"s":"n1","d":215,"v":244000},{"s":"n1","d":245,"v":238000},{"s":"n1","d":290,"v":228000},{"s":"n1","d":330,"v":218000},{"s":"n1","d":364,"v":209000},
{"s":"n2","d":0,"v":203000},{"s":"n2","d":31,"v":199000},{"s":"n2","d":56,"v":197000},{"s":"n2","d":62,"v":205000},{"s":"n2","d":68,"v":215000},{"s":"n2","d":73,"v":228000},{"s":"n2","d":79,"v":238000},{"s":"n2","d":86,"v":243000},{"s":"n2","d":92,"v":252000},{"s":"n2","d":98,"v":272000},{"s":"n2","d":103,"v":260000},{"s":"n2","d":109,"v":290000},{"s":"n2","d":114,"v":270000},{"s":"n2","d":121,"v":282000},{"s":"n2","d":128,"v":262000},{"s":"n2","d":138,"v":255000},{"s":"n2","d":150,"v":249000},{"s":"n2","d":175,"v":247000},{"s":"n2","d":215,"v":245000},{"s":"n2","d":245,"v":240000},{"s":"n2","d":290,"v":232000},{"s":"n2","d":330,"v":224000},{"s":"n2","d":364,"v":216000},
{"s":"n3","d":0,"v":213000},{"s":"n3","d":31,"v":208000},{"s":"n3","d":50,"v":206000},{"s":"n3","d":56,"v":215000},{"s":"n3","d":62,"v":232000},{"s":"n3","d":66,"v":248000},{"s":"n3","d":70,"v":265000},{"s":"n3","d":74,"v":250000},{"s":"n3","d":80,"v":244000},{"s":"n3","d":86,"v":255000},{"s":"n3","d":92,"v":278000},{"s":"n3","d":97,"v":262000},{"s":"n3","d":104,"v":288000},{"s":"n3","d":110,"v":268000},{"s":"n3","d":118,"v":280000},{"s":"n3","d":126,"v":258000},{"s":"n3","d":140,"v":252000},{"s":"n3","d":160,"v":247000},{"s":"n3","d":200,"v":246000},{"s":"n3","d":215,"v":245000},{"s":"n3","d":245,"v":239000},{"s":"n3","d":290,"v":230000},{"s":"n3","d":330,"v":220000},{"s":"n3","d":364,"v":211000},
{"s":"n4","d":0,"v":202000},{"s":"n4","d":31,"v":198000},{"s":"n4","d":58,"v":196000},{"s":"n4","d":64,"v":204000},{"s":"n4","d":71,"v":216000},{"s":"n4","d":78,"v":226000},{"s":"n4","d":84,"v":236000},{"s":"n4","d":90,"v":246000},{"s":"n4","d":95,"v":270000},{"s":"n4","d":99,"v":256000},{"s":"n4","d":105,"v":276000},{"s":"n4","d":111,"v":258000},{"s":"n4","d":118,"v":288000},{"s":"n4","d":124,"v":266000},{"s":"n4","d":132,"v":270000},{"s":"n4","d":140,"v":255000},{"s":"n4","d":155,"v":250000},{"s":"n4","d":175,"v":247000},{"s":"n4","d":215,"v":244000},{"s":"n4","d":245,"v":237000},{"s":"n4","d":290,"v":226000},{"s":"n4","d":330,"v":214000},{"s":"n4","d":364,"v":204000},
{"s":"n5","d":0,"v":206000},{"s":"n5","d":31,"v":202000},{"s":"n5","d":55,"v":200000},{"s":"n5","d":62,"v":210000},{"s":"n5","d":68,"v":222000},{"s":"n5","d":74,"v":232000},{"s":"n5","d":80,"v":240000},{"s":"n5","d":85,"v":244000},{"s":"n5","d":90,"v":258000},{"s":"n5","d":95,"v":250000},{"s":"n5","d":101,"v":280000},{"s":"n5","d":107,"v":262000},{"s":"n5","d":113,"v":295000},{"s":"n5","d":119,"v":272000},{"s":"n5","d":126,"v":285000},{"s":"n5","d":133,"v":262000},{"s":"n5","d":142,"v":258000},{"s":"n5","d":152,"v":250000},{"s":"n5","d":175,"v":247000},{"s":"n5","d":215,"v":245000},{"s":"n5","d":245,"v":240000},{"s":"n5","d":290,"v":231000},{"s":"n5","d":330,"v":223000},{"s":"n5","d":364,"v":216000},
{"s":"n6","d":0,"v":208000},{"s":"n6","d":31,"v":203000},{"s":"n6","d":60,"v":201000},{"s":"n6","d":68,"v":212000},{"s":"n6","d":75,"v":225000},{"s":"n6","d":80,"v":237000},{"s":"n6","d":86,"v":242000},{"s":"n6","d":92,"v":255000},{"s":"n6","d":96,"v":285000},{"s":"n6","d":100,"v":268000},{"s":"n6","d":106,"v":275000},{"s":"n6","d":112,"v":258000},{"s":"n6","d":120,"v":272000},{"s":"n6","d":130,"v":255000},{"s":"n6","d":145,"v":249000},{"s":"n6","d":170,"v":247000},{"s":"n6","d":215,"v":245000},{"s":"n6","d":245,"v":239000},{"s":"n6","d":290,"v":229000},{"s":"n6","d":330,"v":219000},{"s":"n6","d":364,"v":210000},
{"s":"n7","d":0,"v":210000},{"s":"n7","d":31,"v":205000},{"s":"n7","d":62,"v":203000},{"s":"n7","d":70,"v":210000},{"s":"n7","d":78,"v":220000},{"s":"n7","d":86,"v":230000},{"s":"n7","d":94,"v":238000},{"s":"n7","d":100,"v":244000},{"s":"n7","d":106,"v":258000},{"s":"n7","d":112,"v":275000},{"s":"n7","d":117,"v":262000},{"s":"n7","d":123,"v":300000},{"s":"n7","d":128,"v":278000},{"s":"n7","d":134,"v":270000},{"s":"n7","d":140,"v":285000},{"s":"n7","d":146,"v":262000},{"s":"n7","d":155,"v":252000},{"s":"n7","d":170,"v":248000},{"s":"n7","d":200,"v":246000},{"s":"n7","d":215,"v":245000},{"s":"n7","d":245,"v":240000},{"s":"n7","d":290,"v":232000},{"s":"n7","d":330,"v":224000},{"s":"n7","d":364,"v":217000},
{"s":"n8","d":0,"v":204000},{"s":"n8","d":31,"v":200000},{"s":"n8","d":61,"v":198000},{"s":"n8","d":70,"v":205000},{"s":"n8","d":78,"v":214000},{"s":"n8","d":85,"v":222000},{"s":"n8","d":92,"v":230000},{"s":"n8","d":100,"v":238000},{"s":"n8","d":108,"v":244000},{"s":"n8","d":114,"v":262000},{"s":"n8","d":120,"v":250000},{"s":"n8","d":127,"v":285000},{"s":"n8","d":132,"v":262000},{"s":"n8","d":138,"v":275000},{"s":"n8","d":145,"v":258000},{"s":"n8","d":155,"v":250000},{"s":"n8","d":175,"v":247000},{"s":"n8","d":215,"v":244000},{"s":"n8","d":245,"v":238000},{"s":"n8","d":290,"v":228000},{"s":"n8","d":330,"v":218000},{"s":"n8","d":364,"v":208000}
],
"pc":[
{"s":"14th","d":0,"v":194500},{"s":"14th","d":11,"v":191600},{"s":"14th","d":30,"v":189700},{"s":"14th","d":45,"v":189000},{"s":"14th","d":51,"v":190600},{"s":"14th","d":54,"v":192600},{"s":"14th","d":68,"v":192000},{"s":"14th","d":88,"v":192000},{"s":"14th","d":94,"v":194000},{"s":"14th","d":100,"v":198800},{"s":"14th","d":105,"v":205000},{"s":"14th","d":111,"v":208400},{"s":"14th","d":117,"v":211000},{"s":"14th","d":120,"v":215600},{"s":"14th","d":123,"v":219400},{"s":"14th","d":126,"v":225700},{"s":"14th","d":128,"v":229000},{"s":"14th","d":134,"v":232400},{"s":"14th","d":136,"v":235300},{"s":"14th","d":140,"v":240000},{"s":"14th","d":144,"v":245000},{"s":"14th","d":175,"v":245500},{"s":"14th","d":200,"v":243000},{"s":"14th","d":212,"v":240200},{"s":"14th","d":245,"v":230400},{"s":"14th","d":287,"v":218300},{"s":"14th","d":329,"v":206200},{"s":"14th","d":364,"v":196500},
{"s":"3rd","d":0,"v":188000},{"s":"3rd","d":11,"v":185800},{"s":"3rd","d":26,"v":182500},{"s":"3rd","d":30,"v":183400},{"s":"3rd","d":45,"v":181000},{"s":"3rd","d":51,"v":178500},{"s":"3rd","d":54,"v":181000},{"s":"3rd","d":68,"v":181000},{"s":"3rd","d":79,"v":180000},{"s":"3rd","d":91,"v":179600},{"s":"3rd","d":95,"v":182500},{"s":"3rd","d":100,"v":186000},{"s":"3rd","d":111,"v":190600},{"s":"3rd","d":122,"v":198800},{"s":"3rd","d":134,"v":204000},{"s":"3rd","d":145,"v":207400},{"s":"3rd","d":152,"v":208400},{"s":"3rd","d":159,"v":214600},{"s":"3rd","d":164,"v":216000},{"s":"3rd","d":168,"v":225700},{"s":"3rd","d":173,"v":235300},{"s":"3rd","d":182,"v":236200},{"s":"3rd","d":201,"v":242500},{"s":"3rd","d":215,"v":240500},{"s":"3rd","d":245,"v":228000},{"s":"3rd","d":287,"v":214500},{"s":"3rd","d":329,"v":202000},{"s":"3rd","d":364,"v":191000}
],
"ar":[
{"a":"dry","d":230.8,"v":136200},{"a":"dry","d":150.4,"v":238200},
{"a":"crit","d":209.1,"v":116200},{"a":"crit","d":143.2,"v":201700}
],
"ah":[{"d":150.4,"v":238200},{"d":143.2,"v":201700}],
"big":[
{"t":"14","d":236.7,"v":146500},{"t":"Percentile","d":236.7,"v":131600},{"t":"(Dry)","d":236.7,"v":116700},
{"t":"3","d":213.8,"v":106600},{"t":"Percentile","d":213.8,"v":90800},{"t":"(Critical)","d":213.8,"v":76400}
],
"small":[{"t":"th","d":246.7,"v":146500},{"t":"rd","d":218.8,"v":106600}]
},
"layer":[
{"data":{"values":[{"d":-56.1,"d2":371.5,"v":-27900,"v2":408600}]},
 "mark":{"type":"rect","fillOpacity":0,"stroke":"#000000","strokeWidth":1.5,"clip":false},
 "encoding":{
  "x":{"field":"d","type":"quantitative","scale":{"domain":[0,364],"nice":false,"zero":false},
   "axis":{"title":null,"values":[0,31,92,123,151,182,212,243,364],
    "labelExpr":"datum.value==0?'10/1':datum.value==31?'11/1':datum.value==92?'1/1':datum.value==123?'2/1':datum.value==151?'3/1':datum.value==182?'4/1':datum.value==212?'5/1':datum.value==243?'6/1':'9/30'",
    "grid":true,"gridColor":"#000000","gridWidth":1,"domain":false,"ticks":false,
    "labelFont":"DejaVu Sans","labelFontSize":20,"labelColor":"#333333","labelPadding":18,
    "labelFlush":false,"labelOverlap":false,"labelBound":false,"zindex":1}},
  "x2":{"field":"d2"},
  "y":{"field":"v","type":"quantitative","scale":{"domain":[0,400000],"nice":false,"zero":true},
   "axis":{"title":"Lake Sonoma Storage (acre-ft)","values":[0,50000,100000,150000,200000,250000,300000,350000,400000],"format":"d",
    "grid":true,"gridColor":"#A0A0A0","gridWidth":1.5,"domain":false,"ticks":true,"tickColor":"#A0A0A0","tickSize":10,"tickWidth":1.5,
    "labelFont":"DejaVu Sans","labelFontSize":21,"labelColor":"#333333","labelPadding":16,
    "titleFont":"Liberation Sans Narrow, DejaVu Sans Condensed, sans-serif","titleFontSize":21,"titleFontWeight":"bold","titleColor":"#000000",
    "titleAngle":-90,"titleX":-141,"titleY":488,"titleAlign":"center","titleBaseline":"middle","zindex":0}},
  "y2":{"field":"v2"}}},
{"data":{"name":"tr"},
 "mark":{"type":"line","strokeWidth":3.4,"clip":true,"strokeJoin":"round"},
 "encoding":{
  "x":{"field":"d","type":"quantitative"},
  "y":{"field":"v","type":"quantitative"},
  "color":{"field":"s","type":"nominal","legend":null,
   "scale":{"domain":["lb","dr","gr","ro","o1","aq","dp","lg","pa","pb","pc","pd","pe","pf","pg","ph","pi","pj","pk","pl","pm","pn","po","pp","pq","pr","m1","m2","m3","m4","m5","m6","m7","m8","m9","m10","m11","m12","m13","m14","m15","m16","m17","m18","m19","m20","m21","m22","m23","m24","m25","n1","n2","n3","n4","n5","n6","n7","n8"],
   "range":["#7F9FD2","#8C2424","#77933C","#CC7A78","#F28C28","#2FA6BF","#4B2D72","#C0D597","#7D5BA6","#52307A","#3673B3","#9DB6D9","#F08A26","#B7AACF","#1E7676","#F39030","#8EABD9","#A7BDE0","#F59A3C","#2E6DAE","#7B59A5","#A38EC3","#A73A38","#8A6BB0","#38B0CA","#F9B38C","#8064A2","#C08484","#4F81BD","#F79646","#C3D69B","#FAC090","#4BACC6","#9BBB59","#2C5A92","#93CDDD","#E0B0B0","#8EB4E3","#604A7B","#FABF8F","#31859C","#C0504D","#B3A2C7","#6F9A3A","#E46C0A","#A5D5E2","#3FA9C4","#F59B4C","#4A7EBB","#93B752","#95B3D7","#F28E3A","#8FB34E","#7A5CA3","#F8B98E","#45A9C3","#BE4B48","#93B1D6","#DDAFAE"]}}}},
{"data":{"values":[{}]},
 "mark":{"type":"rule","color":"#000000","strokeWidth":5},
 "encoding":{"y":{"datum":245000}}},
{"data":{"name":"pc"},
 "mark":{"type":"line","color":"#ED1C24","strokeWidth":8,"strokeJoin":"round","clip":true},
 "encoding":{"x":{"field":"d","type":"quantitative"},"y":{"field":"v","type":"quantitative"},"detail":{"field":"s"}}},
{"data":{"name":"ar"},
 "mark":{"type":"line","color":"#B0262B","strokeWidth":4.5},
 "encoding":{"x":{"field":"d","type":"quantitative"},"y":{"field":"v","type":"quantitative"},"detail":{"field":"a"}}},
{"data":{"name":"ah"},
 "mark":{"type":"point","shape":"triangle-up","size":520,"filled":true,"color":"#B0262B","opacity":1,"angle":312},
 "encoding":{"x":{"field":"d","type":"quantitative"},"y":{"field":"v","type":"quantitative"}}},
{"data":{"name":"big"},
 "mark":{"type":"text","align":"left","baseline":"alphabetic","font":"Liberation Sans, Arial, sans-serif","fontSize":26,"color":"#111111"},
 "encoding":{"x":{"field":"d","type":"quantitative"},"y":{"field":"v","type":"quantitative"},"text":{"field":"t"}}},
{"data":{"name":"small"},
 "mark":{"type":"text","align":"left","baseline":"alphabetic","font":"Liberation Sans, Arial, sans-serif","fontSize":19,"color":"#111111"},
 "encoding":{"x":{"field":"d","type":"quantitative"},"y":{"field":"v","type":"quantitative"},"text":{"field":"t"}}},
{"data":{"values":[{}]},
 "mark":{"type":"rect","fillOpacity":0,"stroke":"#000000","strokeWidth":4.5},
 "encoding":{"x":{"datum":0},"x2":{"datum":364},"y":{"datum":0},"y2":{"datum":400000}}}
]
}
